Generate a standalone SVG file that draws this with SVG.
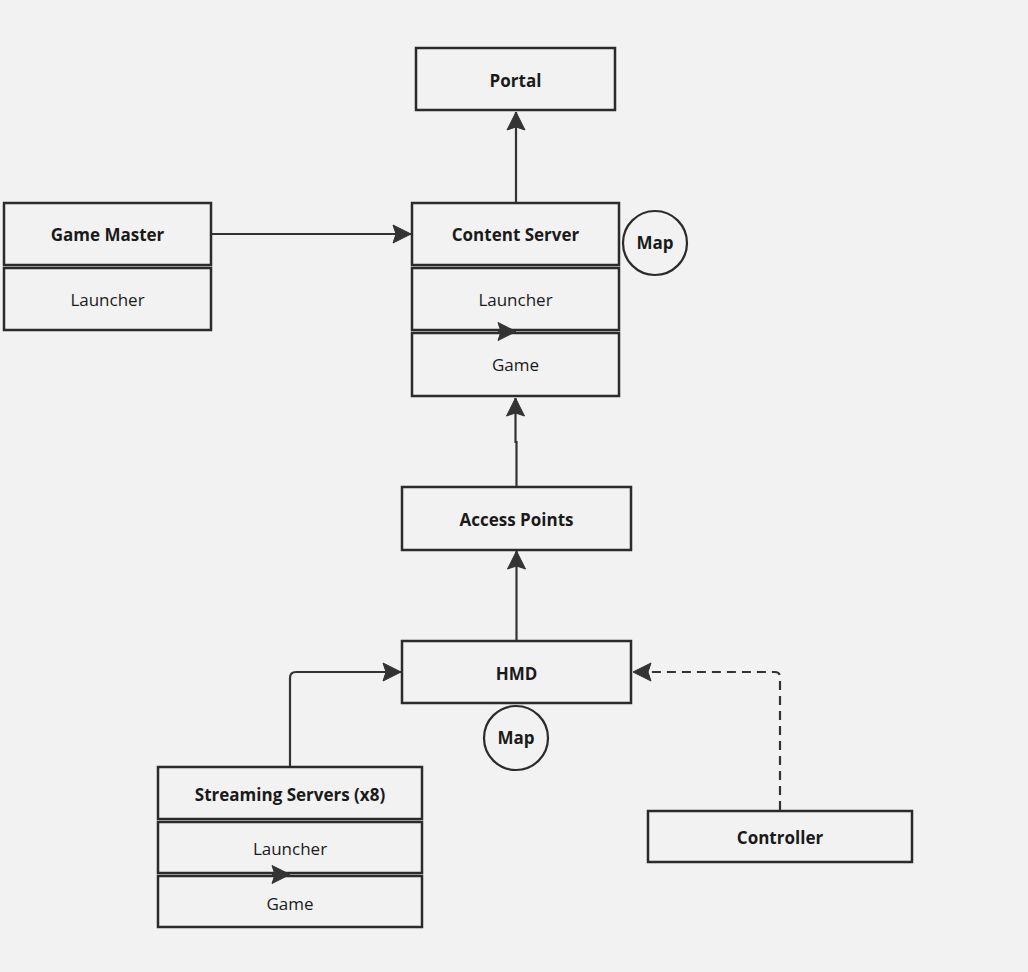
<svg xmlns="http://www.w3.org/2000/svg" width="1028" height="972" viewBox="0 0 1028 972">
<defs>
<style>
.box{fill:#f2f2f2;stroke:#2b2b2b;stroke-width:2.5}
.circ{fill:#f2f2f2;stroke:#2b2b2b;stroke-width:2.2}
.b{font-family:"Open Sans","Liberation Sans",sans-serif;font-size:17px;font-weight:700;fill:#1a1a1a;text-anchor:middle}
.r{font-family:"Open Sans","Liberation Sans",sans-serif;font-size:17px;font-weight:400;fill:#1a1a1a;text-anchor:middle}
.ln{fill:none;stroke:#333333;stroke-width:2.2}
.dash{fill:none;stroke:#333333;stroke-width:2.2;stroke-dasharray:9 6}
</style>
<marker id="ah" markerUnits="userSpaceOnUse" markerWidth="22" markerHeight="22" viewBox="-20 -11 22 22" refX="0" refY="0" orient="auto">
<path d="M0,0 L-18,-9 L-15,0 L-18,9 Z" fill="#333333" stroke="#333333" stroke-width="1" stroke-linejoin="round"/>
</marker>
</defs>
<rect width="1028" height="972" fill="#f2f2f2"/>

<g id="portal">
<rect class="box" x="416" y="48" width="199" height="62"/>
<text class="b" x="515.5" y="86.5">Portal</text>
</g>

<g id="content-server">
<rect class="box" x="412" y="203" width="207" height="62"/>
<text class="b" x="515.5" y="241">Content Server</text>
<rect class="box" x="412" y="268" width="207" height="62"/>
<text class="r" x="515.5" y="306">Launcher</text>
<rect class="box" x="412" y="333" width="207" height="63"/>
<text class="r" x="515.5" y="371">Game</text>
</g>

<g id="map-content">
<circle class="circ" cx="655" cy="243" r="32"/>
<text class="b" x="655" y="249">Map</text>
</g>

<g id="game-master">
<rect class="box" x="4" y="203" width="207" height="62"/>
<text class="b" x="107.5" y="241">Game Master</text>
<rect class="box" x="4" y="268" width="207" height="62"/>
<text class="r" x="107.5" y="306">Launcher</text>
</g>

<g id="access-points">
<rect class="box" x="402" y="487" width="229" height="63"/>
<text class="b" x="516.5" y="525.5">Access Points</text>
</g>

<g id="hmd">
<rect class="box" x="402" y="641" width="229" height="62"/>
<text class="b" x="516.5" y="679.5">HMD</text>
</g>

<g id="map-hmd">
<circle class="circ" cx="516" cy="738" r="32"/>
<text class="b" x="516" y="744">Map</text>
</g>

<g id="streaming-servers">
<rect class="box" x="158" y="767" width="264" height="52"/>
<text class="b" x="290" y="800.5">Streaming Servers (x8)</text>
<rect class="box" x="158" y="822" width="264" height="51"/>
<text class="r" x="290" y="855">Launcher</text>
<rect class="box" x="158" y="876" width="264" height="51"/>
<text class="r" x="290" y="909.5">Game</text>
</g>

<g id="controller">
<rect class="box" x="648" y="811" width="264" height="51"/>
<text class="b" x="780" y="843.5">Controller</text>
</g>

<g id="connectors">
<path class="ln" d="M516,202 L516,112" marker-end="url(#ah)"/>
<path class="ln" d="M212,234 L411,234" marker-end="url(#ah)"/>
<path class="ln" d="M516.5,486 L516.5,442 L515.5,442 L515.5,398" marker-end="url(#ah)"/>
<path class="ln" d="M516.5,640 L516.5,551" marker-end="url(#ah)"/>
<path class="ln" d="M290,766 L290,678 Q290,672 296,672 L401,672" marker-end="url(#ah)"/>
<path class="dash" d="M780,810 L780,677 Q780,672 775,672 L633,672" marker-end="url(#ah)"/>
<path class="ln" d="M498,331.5 L516,331.5" marker-end="url(#ah)"/>
<path class="ln" d="M272,874.5 L290,874.5" marker-end="url(#ah)"/>
</g>
</svg>
